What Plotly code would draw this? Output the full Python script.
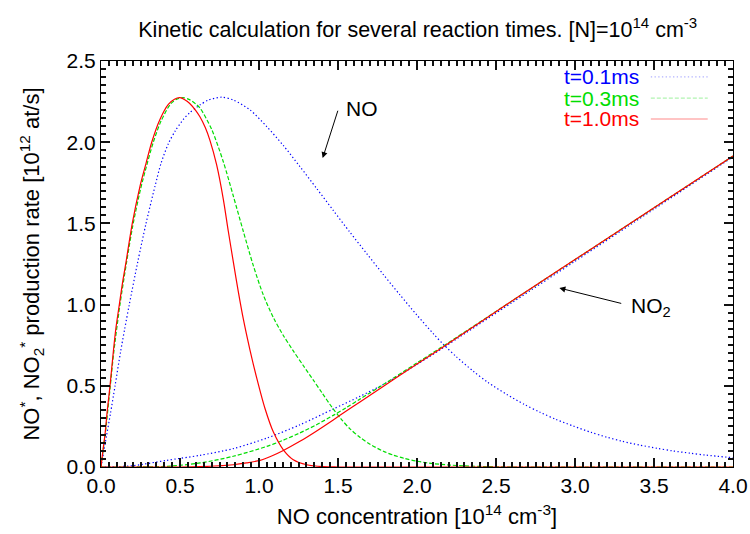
import plotly.graph_objects as go

# ---------------- data ----------------
# NO* production, t = 0.1 ms (blue dotted)
no_t01_x = [0, 0.036, 0.06, 0.089, 0.124, 0.15, 0.179, 0.232, 0.285, 0.342, 0.38, 0.426, 0.47, 0.521,
            0.56, 0.605, 0.627, 0.68, 0.764, 0.837, 0.943, 1.049, 1.154, 1.259, 1.365, 1.47,
            1.576, 1.681, 1.787, 1.892, 1.998, 2.104, 2.167, 2.25, 2.356, 2.45, 2.568, 2.68,
            2.779, 2.88, 2.99, 3.1, 3.2, 3.3, 3.41, 3.52, 3.62, 3.73, 3.83, 4.0]
no_t01_y = [0, 0.198, 0.33, 0.5, 0.71, 0.85, 1.0, 1.26, 1.5, 1.73, 1.87, 1.99, 2.07, 2.14,
            2.18, 2.215, 2.23, 2.26, 2.277, 2.26, 2.199, 2.096, 1.98, 1.85, 1.715, 1.58,
            1.445, 1.315, 1.185, 1.06, 0.937, 0.82, 0.755, 0.678, 0.59, 0.52, 0.447, 0.385,
            0.337, 0.293, 0.252, 0.214, 0.184, 0.158, 0.135, 0.115, 0.099, 0.085, 0.073, 0.057]

# NO* production, t = 0.3 ms (green dashed)
no_t03_x = [0, 0.013, 0.026, 0.058, 0.08, 0.12, 0.16, 0.20, 0.25, 0.29, 0.331, 0.38, 0.44, 0.48,
            0.521, 0.56, 0.6, 0.627, 0.70, 0.774, 0.837, 0.901, 0.964, 1.027, 1.091, 1.154,
            1.217, 1.28, 1.344, 1.40, 1.46, 1.52, 1.576, 1.64, 1.703, 1.787, 1.85, 1.92,
            1.998, 2.1, 2.209, 2.3, 2.42, 2.6, 3.0, 4.0]
no_t03_y = [0, 0.1, 0.195, 0.49, 0.70, 1.0, 1.25, 1.48, 1.71, 1.86, 2.0, 2.13, 2.235, 2.265,
            2.274, 2.262, 2.235, 2.21, 2.08, 1.88, 1.67, 1.45, 1.24, 1.06, 0.92, 0.81,
            0.715, 0.625, 0.535, 0.455, 0.37, 0.295, 0.235, 0.182, 0.14, 0.097, 0.073, 0.053,
            0.036, 0.021, 0.012, 0.007, 0.003, 0.0, 0.0, 0.0]

# NO* production, t = 1.0 ms (red solid)
no_t10_x = [0, 0.012, 0.025, 0.04, 0.057, 0.078, 0.095, 0.116, 0.137, 0.158, 0.198, 0.247,
            0.285, 0.321, 0.373, 0.426, 0.465, 0.5, 0.53, 0.56, 0.60, 0.627, 0.66, 0.69,
            0.732, 0.774, 0.806, 0.838, 0.869, 0.901, 0.943, 0.985, 1.038, 1.091, 1.154,
            1.217, 1.302, 1.407, 1.5, 2.0, 3.0, 4.0]
no_t10_y = [0, 0.1, 0.198, 0.35, 0.5, 0.71, 0.86, 1.0, 1.14, 1.26, 1.5, 1.73,
            1.87, 2.0, 2.14, 2.233, 2.265, 2.274, 2.262, 2.24, 2.195, 2.155, 2.09, 2.01,
            1.86, 1.65, 1.45, 1.26, 1.08, 0.91, 0.72, 0.55, 0.36, 0.215, 0.106,
            0.045, 0.014, 0.002, 0.0, 0.0, 0.0, 0.0]

# NO2* production
no2_t01_x = [0, 0.1, 0.204, 0.416, 0.627, 0.837, 1.049, 1.259, 1.47, 1.639, 1.8, 2.0, 2.146, 2.61, 3.0, 3.5, 4.0]
no2_t01_y = [0, 0.002, 0.008, 0.041, 0.072, 0.113, 0.178, 0.26, 0.357, 0.435, 0.515, 0.632, 0.722, 1.018, 1.267, 1.588, 1.91]

no2_t03_x = [0, 0.2, 0.416, 0.627, 0.837, 1.049, 1.154, 1.259, 1.36, 1.47, 1.55, 1.639, 1.8, 2.0, 2.146, 2.61, 3.0, 3.5, 4.0]
no2_t03_y = [0, 0.0, 0.004, 0.025, 0.066, 0.127, 0.165, 0.21, 0.258, 0.318, 0.364, 0.418, 0.516, 0.641, 0.732, 1.028, 1.277, 1.596, 1.915]

no2_t10_x = [0, 0.5, 0.627, 0.837, 0.92, 1.006, 1.08, 1.154, 1.259, 1.35, 1.47, 1.55, 1.639, 1.8, 2.0, 2.146, 2.61, 3.0, 3.5, 4.0]
no2_t10_y = [0, 0.0, 0.002, 0.014, 0.025, 0.041, 0.068, 0.102, 0.158, 0.213, 0.29, 0.343, 0.401, 0.505, 0.634, 0.727, 1.028, 1.277, 1.596, 1.915]

series_names = ["t=0.1ms", "t=0.3ms", "t=1.0ms"]
series_colors = ["#0000ff", "#00dd00", "#ff0000"]
series_dash = ["1.3px,2.4px", "4px,2px", "solid"]

FONT = "Liberation Sans, Arial, Helvetica, sans-serif"
FS = 21
TICKC = "#111111"

fig = go.Figure()
curves = [(no_t01_x, no_t01_y, no2_t01_x, no2_t01_y),
          (no_t03_x, no_t03_y, no2_t03_x, no2_t03_y),
          (no_t10_x, no_t10_y, no2_t10_x, no2_t10_y)]
for i, (ax_, ay_, bx_, by_) in enumerate(curves):
    line = dict(color=series_colors[i], width=1.2, dash=series_dash[i], shape="spline", smoothing=0.8)
    fig.add_trace(go.Scatter(x=ax_, y=ay_, mode="lines", line=line, showlegend=False, name=series_names[i]))
    fig.add_trace(go.Scatter(x=bx_, y=by_, mode="lines", line=line, showlegend=False, name=series_names[i]))

# manual gnuplot-style key (text then sample)
key_y = [2.402, 2.272, 2.143]
for i in range(3):
    fig.add_annotation(x=3.42, y=key_y[i], xref="x", yref="y", text=series_names[i],
                       showarrow=False, xanchor="right", yanchor="middle",
                       font=dict(family=FONT, size=FS, color=series_colors[i]))
    fig.add_shape(type="line", xref="x", yref="y", x0=3.48, x1=3.84, y0=key_y[i], y1=key_y[i],
                  line=dict(color=series_colors[i], width=1.3, dash=series_dash[i]))

# labels with arrows
fig.add_annotation(x=1.403, y=1.902, ax=1.502, ay=2.203, xref="x", yref="y", axref="x", ayref="y",
                   text="", showarrow=True, arrowhead=2, arrowsize=1.2, arrowwidth=1, arrowcolor="black")
fig.add_annotation(x=1.54, y=2.205, xref="x", yref="y", text="NO", showarrow=False,
                   xanchor="left", yanchor="middle", font=dict(family=FONT, size=FS, color="black"))
fig.add_annotation(x=2.901, y=1.102, ax=3.302, ay=1.005, xref="x", yref="y", axref="x", ayref="y",
                   text="", showarrow=True, arrowhead=2, arrowsize=1.2, arrowwidth=1, arrowcolor="black")
fig.add_annotation(x=3.34, y=0.985, xref="x", yref="y", text="NO<sub>2</sub>", showarrow=False,
                   xanchor="left", yanchor="middle", font=dict(family=FONT, size=FS, color="black"))

axis_common = dict(showline=True, linecolor="black", mirror="ticks",
                   ticks="inside", ticklen=9, tickwidth=1.5, tickcolor=TICKC,
                   showgrid=False, automargin=False,
                   dtick=0.5, tickformat=".1f",
                   tickfont=dict(family=FONT, size=FS, color="black"),
                   minor=dict(ticks="inside", ticklen=5, tickcolor=TICKC, dtick=0.05))

fig.update_xaxes(range=[0, 4],
                 title=dict(text="NO concentration [10<sup>14</sup> cm<sup>-3</sup>]",
                            font=dict(family=FONT, size=22, color="black"), standoff=12),
                 **axis_common)
fig.update_yaxes(range=[0, 2.5],
                 title=dict(text="NO<sup>*</sup>, NO<sub>2</sub><sup>*</sup> production rate [10<sup>12</sup> at/s]",
                            font=dict(family=FONT, size=22, color="black"), standoff=20),
                 **axis_common)

fig.update_layout(
    template="simple_white",
    width=750, height=534,
    margin=dict(l=101, r=17, t=61, b=67),
    title=dict(text="Kinetic calculation for several reaction times. [N]=10<sup>14</sup> cm<sup>-3</sup>",
               x=0.557, xanchor="center", y=0.945, yanchor="middle",
               font=dict(family=FONT, size=21.5, color="black")),
    showlegend=False,
)

fig.write_html("out.html", config={"displayModeBar": False},
               post_script="document.body.style.margin='0px';")
